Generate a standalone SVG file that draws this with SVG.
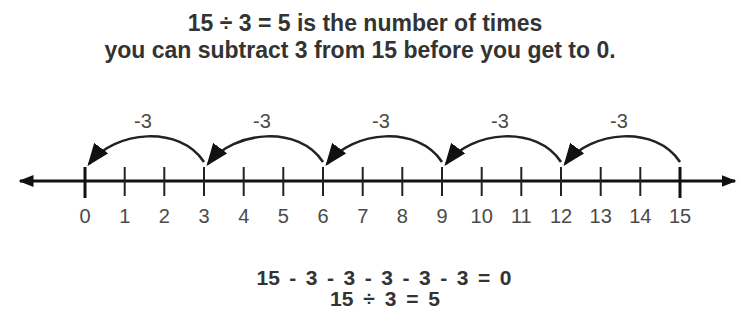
<svg xmlns="http://www.w3.org/2000/svg" width="738" height="328" viewBox="0 0 738 328">
<style>
.t{font-family:"Liberation Sans",Arial,sans-serif;font-weight:bold;fill:#333;text-anchor:middle}
.n{font-family:"Liberation Sans",Arial,sans-serif;font-size:20px;fill:#4a4a4a;text-anchor:middle}
.tk{stroke:#222;stroke-width:2}
.mj{stroke:#111;stroke-width:3}
.arc{fill:none;stroke:#222;stroke-width:2.5;marker-end:url(#ah)}
</style>
<defs>
<marker id="ah" markerWidth="9" markerHeight="7" refX="8" refY="3.5" orient="auto" markerUnits="strokeWidth">
<path d="M0,0 L9,3.5 L0,7 z" fill="#111"/>
</marker>
<marker id="ax" markerWidth="5" markerHeight="4" refX="4.5" refY="2" orient="auto-start-reverse" markerUnits="strokeWidth">
<path d="M0,0 L5,2 L0,4 z" fill="#111"/>
</marker>
</defs>
<rect width="738" height="328" fill="#fff"/>
<g id="title">
<text class="t" x="365" y="31" font-size="23">15 ÷ 3 = 5 is the number of times</text>
<text class="t" x="360" y="58" font-size="23">you can subtract 3 from 15 before you get to 0.</text>
</g>
<g id="axis">
<line x1="20" y1="181" x2="735" y2="181" stroke="#111" stroke-width="3" marker-start="url(#ax)" marker-end="url(#ax)"/>
<line class="mj" x1="85" y1="167" x2="85" y2="198"/>
<line class="tk" x1="124.7" y1="167" x2="124.7" y2="196"/>
<line class="tk" x1="164.3" y1="167" x2="164.3" y2="196"/>
<line class="tk" x1="204" y1="167" x2="204" y2="196"/>
<line class="tk" x1="243.7" y1="167" x2="243.7" y2="196"/>
<line class="tk" x1="283.3" y1="167" x2="283.3" y2="196"/>
<line class="tk" x1="323" y1="167" x2="323" y2="196"/>
<line class="tk" x1="362.7" y1="167" x2="362.7" y2="196"/>
<line class="tk" x1="402.3" y1="167" x2="402.3" y2="196"/>
<line class="tk" x1="442" y1="167" x2="442" y2="196"/>
<line class="tk" x1="481.7" y1="167" x2="481.7" y2="196"/>
<line class="tk" x1="521.3" y1="167" x2="521.3" y2="196"/>
<line class="tk" x1="561" y1="167" x2="561" y2="196"/>
<line class="tk" x1="600.7" y1="167" x2="600.7" y2="196"/>
<line class="tk" x1="640.3" y1="167" x2="640.3" y2="196"/>
<line class="mj" x1="680" y1="167" x2="680" y2="198"/>
</g>
<g id="labels">
<text class="n" x="85" y="223">0</text>
<text class="n" x="124.7" y="223">1</text>
<text class="n" x="164.3" y="223">2</text>
<text class="n" x="204" y="223">3</text>
<text class="n" x="243.7" y="223">4</text>
<text class="n" x="283.3" y="223">5</text>
<text class="n" x="323" y="223">6</text>
<text class="n" x="362.7" y="223">7</text>
<text class="n" x="402.3" y="223">8</text>
<text class="n" x="442" y="223">9</text>
<text class="n" x="481.7" y="223">10</text>
<text class="n" x="521.3" y="223">11</text>
<text class="n" x="561" y="223">12</text>
<text class="n" x="600.7" y="223">13</text>
<text class="n" x="640.3" y="223">14</text>
<text class="n" x="680" y="223">15</text>
</g>
<g id="connectors">
<path class="arc" d="M204,162 C180,125 115,130 89,164"/>
<path class="arc" d="M323,162 C299,125 234,130 208,164"/>
<path class="arc" d="M442,162 C418,125 353,130 327,164"/>
<path class="arc" d="M561,162 C537,125 472,130 446,164"/>
<path class="arc" d="M680,162 C656,125 591,130 565,164"/>
</g>
<g id="steps">
<text class="n" x="143" y="128">-3</text>
<text class="n" x="262" y="128">-3</text>
<text class="n" x="381" y="128">-3</text>
<text class="n" x="500" y="128">-3</text>
<text class="n" x="619" y="128">-3</text>
</g>
<g id="equations">
<text class="t" x="384" y="285" font-size="21" word-spacing="3.7">15 - 3 - 3 - 3 - 3 - 3 = 0</text>
<text class="t" x="385" y="306" font-size="21" word-spacing="4">15 ÷ 3 = 5</text>
</g>
</svg>
